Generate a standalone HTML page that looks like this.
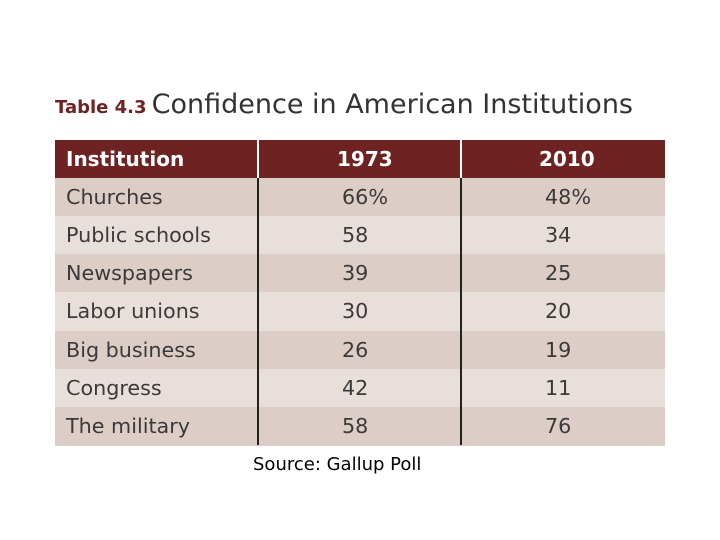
<!DOCTYPE html>
<html><head><meta charset="utf-8"><style>
body{margin:0;width:720px;height:540px;background:#fff;position:relative;font-family:"DejaVu Sans","Liberation Sans",sans-serif;overflow:hidden}
.a{position:absolute}
.hd{background:#6e2322;color:#fff;font-weight:bold;font-size:20px;line-height:38px}
.c{color:#3a3a3a;font-size:20.7px;line-height:38px}
</style></head><body>
<div class="a" style="left:55px;top:89px;white-space:nowrap"><span style="color:#6e2322;font-weight:bold;font-size:18px">Table 4.3</span> <span style="color:#333;font-size:27px">Confidence in American Institutions</span></div>
<div id="t"></div>
<div class="a" style="left:253px;top:454px;font-size:18px;color:#000">Source: Gallup Poll</div>
<script>
const institutions=["Churches","Public schools","Newspapers","Labor unions","Big business","Congress","The military"];
const v1973=["66%","58","39","30","26","42","58"];
const v2010=["48%","34","25","20","19","11","76"];
const t=document.getElementById('t');
const X=[55,258,461,665],top0=140,rh=38.1;
function cell(cls,x,y,w,txt,bg,pad,name){const d=document.createElement('div');


d.className='a '+cls;d.style.cssText=`left:${x}px;top:${y}px;width:${w}px;height:${Math.ceil(rh)}px;${bg?'background:'+bg+';':''}`;
const s=document.createElement('span');s.className='a';s.textContent=txt;s.style.left=pad+'px';d.appendChild(s);t.appendChild(d);}
cell('hd',X[0],top0,X[1]-X[0]-1,'Institution',null,11,'header-institution');
cell('hd',X[1]+1,top0,X[2]-X[1]-2,'1973',null,78,'header-1973');
cell('hd',X[2]+1,top0,X[3]-X[2]-1,'2010',null,77,'header-2010');
institutions.forEach((n,i)=>{const y=top0+rh*(i+1),bg=i%2?'#e9dfda':'#dccdc6';
cell('c',X[0],y,X[1]-X[0],n,bg,11,'row-label');
cell('c',X[1],y,X[2]-X[1],v1973[i],bg,84,'value-1973');
cell('c',X[2],y,X[3]-X[2],v2010[i],bg,84,'value-2010');});
[X[1],X[2]].forEach(x=>{const l=document.createElement('div');


l.className='a';l.style.cssText=`left:${x-1}px;top:${top0+rh}px;width:2px;height:${rh*institutions.length}px;background:#222`;t.appendChild(l);});
</script>
</body></html>
